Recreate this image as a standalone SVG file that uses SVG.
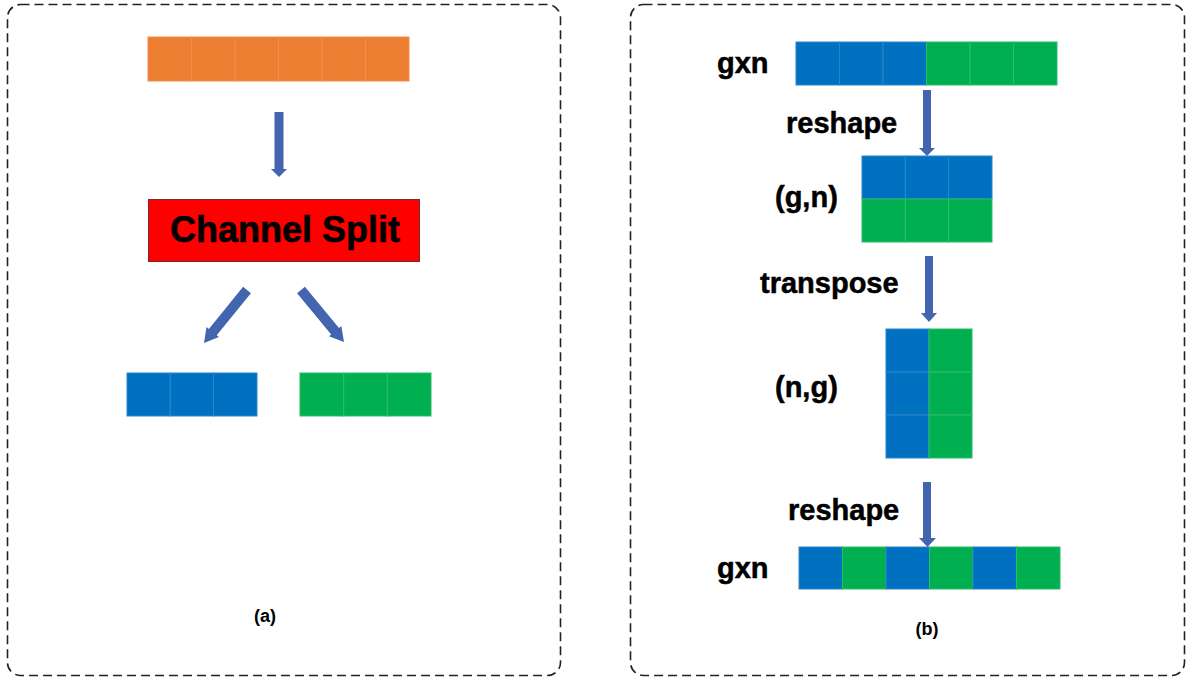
<svg xmlns="http://www.w3.org/2000/svg" width="1190" height="679" viewBox="0 0 1190 679">
  <style>
    .frame { fill: none; stroke: #222; stroke-width: 1.6; stroke-dasharray: 9 5; }
    .orange { fill: #ED7D31; stroke: #F08E4E; stroke-width: 1; }
    .blue { fill: #0070C0; stroke: #2A86C9; stroke-width: 1; }
    .green { fill: #00B050; stroke: #2ABD6A; stroke-width: 1; }
    .arrow { fill: #4364AE; }
    .lbl { font-family: "Liberation Sans", Arial, sans-serif; font-weight: bold; fill: #000; }
    .big { font-size: 29px; stroke: #000; stroke-width: 0.5; }
    .cap { font-size: 18px; text-anchor: middle; }
  </style>

  <!-- dashed panel frames -->
  <g id="panel-a">
    <rect class="frame" x="7.5" y="4.5" width="553" height="671" rx="13"/>
  </g>
  <g id="panel-b">
    <rect class="frame" x="630.5" y="4.5" width="554" height="671" rx="13"/>
  </g>

  <!-- (a) channel split -->
  <g id="input-bar">
    <rect class="orange" x="148" y="37" width="43.5" height="44"/>
    <rect class="orange" x="191.5" y="37" width="43.5" height="44"/>
    <rect class="orange" x="235" y="37" width="43.5" height="44"/>
    <rect class="orange" x="278.5" y="37" width="43.5" height="44"/>
    <rect class="orange" x="322" y="37" width="43.5" height="44"/>
    <rect class="orange" x="365.5" y="37" width="43.5" height="44"/>
  </g>

  <g id="channel-split">
    <rect x="148.5" y="199.5" width="271" height="62" fill="#FF0000" stroke="#7A2A2A" stroke-width="1"/>
    <text class="lbl" x="285" y="242" font-size="36" stroke="#000" stroke-width="0.6" text-anchor="middle">Channel Split</text>
  </g>

  <g id="split-left">
    <rect class="blue" x="127" y="373" width="43.3" height="43"/>
    <rect class="blue" x="170.3" y="373" width="43.3" height="43"/>
    <rect class="blue" x="213.6" y="373" width="43.4" height="43"/>
  </g>

  <g id="split-right">
    <rect class="green" x="300" y="373" width="43.7" height="43"/>
    <rect class="green" x="343.7" y="373" width="43.6" height="43"/>
    <rect class="green" x="387.3" y="373" width="43.7" height="43"/>
  </g>

  <g id="caption-a">
    <text class="lbl cap" x="265" y="622">(a)</text>
  </g>

  <!-- (b) channel shuffle -->
  <g id="row-gxn-top">
    <text class="lbl big" x="717" y="73">gxn</text>
    <rect class="blue" x="796" y="42" width="43.5" height="43"/>
    <rect class="blue" x="839.5" y="42" width="43.5" height="43"/>
    <rect class="blue" x="883" y="42" width="43.5" height="43"/>
    <rect class="green" x="926.5" y="42" width="43.5" height="43"/>
    <rect class="green" x="970" y="42" width="43.5" height="43"/>
    <rect class="green" x="1013.5" y="42" width="43.5" height="43"/>
  </g>

  <g id="label-reshape-1">
    <text class="lbl big" x="786" y="133">reshape</text>
  </g>

  <g id="matrix-gn">
    <text class="lbl big" x="775" y="207">(g,n)</text>
    <rect class="blue" x="862" y="156" width="43.3" height="43"/>
    <rect class="blue" x="905.3" y="156" width="43.3" height="43"/>
    <rect class="blue" x="948.6" y="156" width="43.4" height="43"/>
    <rect class="green" x="862" y="199" width="43.3" height="43"/>
    <rect class="green" x="905.3" y="199" width="43.3" height="43"/>
    <rect class="green" x="948.6" y="199" width="43.4" height="43"/>
  </g>

  <g id="label-transpose">
    <text class="lbl big" x="760" y="293">transpose</text>
  </g>

  <g id="matrix-ng">
    <text class="lbl big" x="775" y="397">(n,g)</text>
    <rect class="blue" x="886" y="329" width="43" height="43"/>
    <rect class="blue" x="886" y="372" width="43" height="43"/>
    <rect class="blue" x="886" y="415" width="43" height="43"/>
    <rect class="green" x="929" y="329" width="43" height="43"/>
    <rect class="green" x="929" y="372" width="43" height="43"/>
    <rect class="green" x="929" y="415" width="43" height="43"/>
  </g>

  <g id="label-reshape-2">
    <text class="lbl big" x="788" y="520">reshape</text>
  </g>

  <g id="row-gxn-bottom">
    <text class="lbl big" x="717" y="578">gxn</text>
    <rect class="blue" x="799" y="547" width="43.5" height="42"/>
    <rect class="green" x="842.5" y="547" width="43.5" height="42"/>
    <rect class="blue" x="886" y="547" width="43.5" height="42"/>
    <rect class="green" x="929.5" y="547" width="43.5" height="42"/>
    <rect class="blue" x="973" y="547" width="43.5" height="42"/>
    <rect class="green" x="1016.5" y="547" width="43.5" height="42"/>
  </g>

  <g id="caption-b">
    <text class="lbl cap" x="927" y="635">(b)</text>
  </g>

  <!-- block arrows -->
  <g id="connectors">
    <polygon class="arrow" points="274.5,112 283.5,112 283.5,169 287,169 279,177 271,169 274.5,169"/>
    <!-- diagonal split arrows -->
    <polygon class="arrow" points="243.1,286.8 250.9,293.2 216.7,335.3 219,337 204,343 206.5,327 208.9,329"/>
    <polygon class="arrow" points="304.9,286.8 297.1,293.2 331.2,334.4 328.9,336.3 344,342 341.3,326.1 339,328"/>
    <polygon class="arrow" points="923,90 931,90 931,148 935,148 927,156 919,148 923,148"/>
    <polygon class="arrow" points="925,256 933,256 933,313 937,313 929,322 921,313 925,313"/>
    <polygon class="arrow" points="923,482 931,482 931,538 936,538 927.5,547 919,538 923,538"/>
  </g>
</svg>
